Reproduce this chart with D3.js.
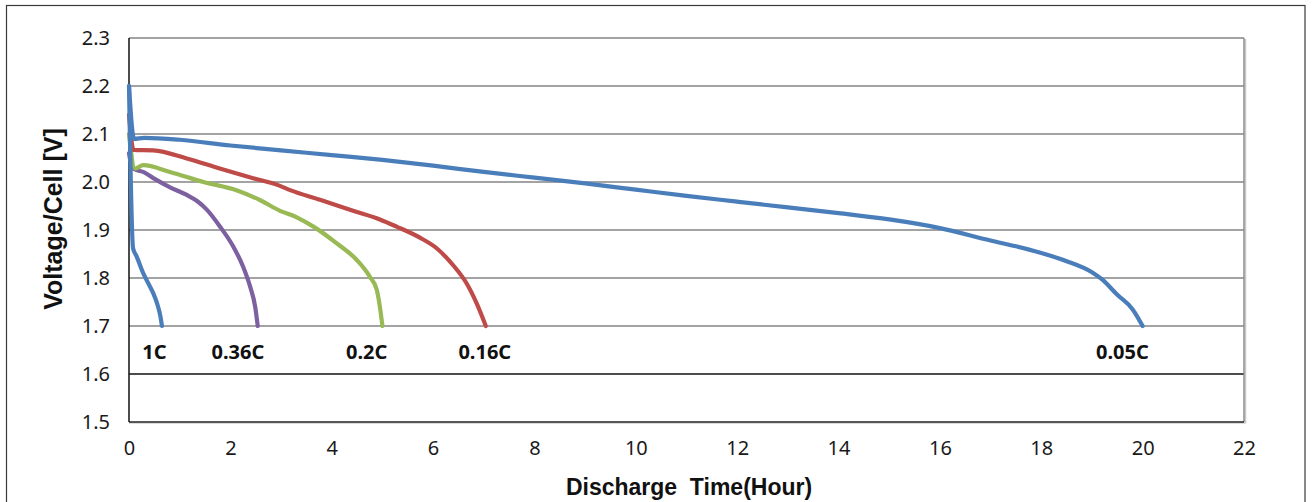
<!DOCTYPE html>
<html>
<head>
<meta charset="utf-8">
<script src="https://cdn.jsdelivr.net/npm/d3@7"></script>
<style>
  html, body { margin: 0; padding: 0; background: #fff; }
  svg { display: block; }
</style>
</head>
<body>
<svg id="chart" width="1312" height="502"></svg>
<script>
// ---- Data ----
const xTicks = [0, 2, 4, 6, 8, 10, 12, 14, 16, 18, 20, 22];
const yTicks = [1.5, 1.6, 1.7, 1.8, 1.9, 2.0, 2.1, 2.2, 2.3];

const seriesNames = ["1C", "0.36C", "0.2C", "0.16C", "0.05C"];
const seriesColors = ["#4A7EBB", "#7D60A0", "#98B954", "#BE4B48", "#4A7EBB"];

const time1C = [0, 0.08, 0.15, 0.28, 0.4, 0.48, 0.56, 0.62, 0.65];
const volt1C = [2.2, 1.862, 1.845, 1.81, 1.785, 1.768, 1.745, 1.72, 1.70];

const time036C = [0, 0.06, 0.1, 0.3, 0.48, 0.81, 1.14, 1.35, 1.53, 1.79, 2.06, 2.25, 2.39, 2.49, 2.54];
const volt036C = [2.06, 2.03, 2.027, 2.02, 2.008, 1.989, 1.973, 1.96, 1.943, 1.908, 1.865, 1.824, 1.782, 1.74, 1.70];

const time02C = [0, 0.12, 0.28, 0.81, 1.47, 2.12, 2.58, 2.98, 3.3, 3.64, 4.1, 4.49, 4.75, 4.89, 4.95, 5.0];
const volt02C = [2.10, 2.028, 2.035, 2.021, 2.0, 1.983, 1.9625, 1.94, 1.927, 1.907, 1.872, 1.838, 1.803, 1.775, 1.74, 1.70];

const time016C = [0, 0.09, 0.48, 1.14, 1.79, 2.45, 2.98, 3.18, 3.77, 4.42, 4.95, 5.28, 5.74, 6.07, 6.40, 6.66, 6.86, 7.04];
const volt016C = [2.14, 2.067, 2.066, 2.049, 2.028, 2.008, 1.992, 1.983, 1.963, 1.940, 1.922, 1.907, 1.884, 1.862, 1.826, 1.789, 1.747, 1.70];

const time005C = [0, 0.1, 0.3, 1, 2, 3, 4, 5, 6, 7, 8, 9, 10, 11, 12, 13, 14, 15, 16, 17, 17.5, 18, 18.5, 19, 19.2, 19.5, 19.8, 20];
const volt005C = [2.2, 2.09, 2.092, 2.088, 2.076, 2.066, 2.056, 2.046, 2.034, 2.021, 2.009, 1.997, 1.984, 1.971, 1.959, 1.947, 1.935, 1.922, 1.904, 1.878, 1.866, 1.852, 1.835, 1.812, 1.797, 1.765, 1.735, 1.70];

const labelHours = [0.5, 2.15, 4.69, 7.02, 19.6];
const labelVolt = 1.632;

// ---- Layout ----
const svg = d3.select("#chart");
const plot = { left: 129, right: 1244, top: 38, bottom: 422 };

const x = d3.scaleLinear().domain([0, 22]).range([plot.left, plot.right]);
const y = d3.scaleLinear().domain([1.5, 2.3]).range([plot.bottom, plot.top]);

// outer chart border
svg.append("rect")
  .attr("x", 6.5).attr("y", 5.5)
  .attr("width", 1298.5).attr("height", 530)
  .attr("fill", "#fff").attr("stroke", "#3a3a3a").attr("stroke-width", 1.2);

// gridlines
svg.append("g").selectAll("line")
  .data(yTicks.filter(v => v > 1.5))
  .join("line")
  .attr("x1", plot.left).attr("x2", plot.right)
  .attr("y1", d => y(d)).attr("y2", d => y(d))
  .attr("stroke", d => Math.abs(d - 1.6) < 1e-9 ? "#111" : "#858585")
  .attr("stroke-width", 1.4);

// right border of plot area with a subtle shadow
svg.append("line")
  .attr("x1", plot.right + 1.5).attr("x2", plot.right + 1.5)
  .attr("y1", plot.top + 1).attr("y2", plot.bottom + 1.5)
  .attr("stroke", "#c8c8c8").attr("stroke-width", 1.5);
svg.append("line")
  .attr("x1", plot.right).attr("x2", plot.right)
  .attr("y1", plot.top).attr("y2", plot.bottom)
  .attr("stroke", "#858585").attr("stroke-width", 1.4);

// bottom axis line
svg.append("line")
  .attr("x1", plot.left).attr("x2", plot.right + 1)
  .attr("y1", plot.bottom + 1.2).attr("y2", plot.bottom + 1.2)
  .attr("stroke", "#d0d0d0").attr("stroke-width", 1.2);
svg.append("line")
  .attr("x1", plot.left).attr("x2", plot.right)
  .attr("y1", plot.bottom).attr("y2", plot.bottom)
  .attr("stroke", "#222").attr("stroke-width", 1.5);

// left axis line
svg.append("line")
  .attr("x1", plot.left).attr("x2", plot.left)
  .attr("y1", plot.top).attr("y2", plot.bottom)
  .attr("stroke", "#111").attr("stroke-width", 1.5);

// Y axis tick labels via d3 axis
const yAxis = d3.axisLeft(y).tickValues(yTicks).tickFormat(d3.format(".1f")).tickSize(0).tickPadding(19);
const gy = svg.append("g").attr("transform", `translate(${plot.left},0)`).call(yAxis);
gy.select(".domain").remove();
gy.selectAll("text")
  .attr("font-family", "'Noto Sans', 'Open Sans', sans-serif")
  .attr("font-size", 20).attr("fill", "#1a1a1a");

// X axis tick labels via d3 axis
const xAxis = d3.axisBottom(x).tickValues(xTicks).tickFormat(d3.format("d")).tickSize(0).tickPadding(19);
const gx = svg.append("g").attr("transform", `translate(0,${plot.bottom})`).call(xAxis);
gx.select(".domain").remove();
gx.selectAll("text")
  .attr("font-family", "'Noto Sans', 'Open Sans', sans-serif")
  .attr("font-size", 20).attr("fill", "#1a1a1a");

// curves
const line = d3.line().x(d => x(d[0])).y(d => y(d[1])).curve(d3.curveMonotoneX);
const seriesData = [
  d3.zip(time036C, volt036C),
  d3.zip(time02C, volt02C),
  d3.zip(time016C, volt016C),
  d3.zip(time005C, volt005C),
  d3.zip(time1C, volt1C)
];
const drawColors = [seriesColors[1], seriesColors[2], seriesColors[3], seriesColors[4], seriesColors[0]];

svg.append("g").selectAll("path")
  .data(seriesData)
  .join("path")
  .attr("d", line)
  .attr("fill", "none")
  .attr("stroke", (d, i) => drawColors[i])
  .attr("stroke-width", 4.2)
  .attr("stroke-linejoin", "round")
  .attr("stroke-linecap", "round");

// curve labels
svg.append("g").selectAll("text")
  .data(seriesNames)
  .join("text")
  .attr("x", (d, i) => x(labelHours[i]))
  .attr("y", y(labelVolt))
  .attr("text-anchor", "middle")
  .attr("font-family", "'Noto Sans', 'Open Sans', sans-serif")
  .attr("font-weight", "bold")
  .attr("font-size", 20)
  .attr("fill", "#111")
  .text(d => d);

// axis titles
svg.append("text")
  .attr("x", 689).attr("y", 495)
  .attr("text-anchor", "middle")
  .attr("font-family", "'Liberation Sans', Arial, sans-serif")
  .attr("font-weight", "bold")
  .attr("font-size", 23)
  .attr("fill", "#111")
  .attr("xml:space", "preserve")
  .text("Discharge  Time(Hour)");

svg.append("text")
  .attr("transform", "translate(62,219) rotate(-90)")
  .attr("text-anchor", "middle")
  .attr("font-family", "'Liberation Sans', Arial, sans-serif")
  .attr("font-weight", "bold")
  .attr("font-size", 25)
  .attr("fill", "#111")
  .text("Voltage/Cell [V]");
</script>
</body>
</html>
